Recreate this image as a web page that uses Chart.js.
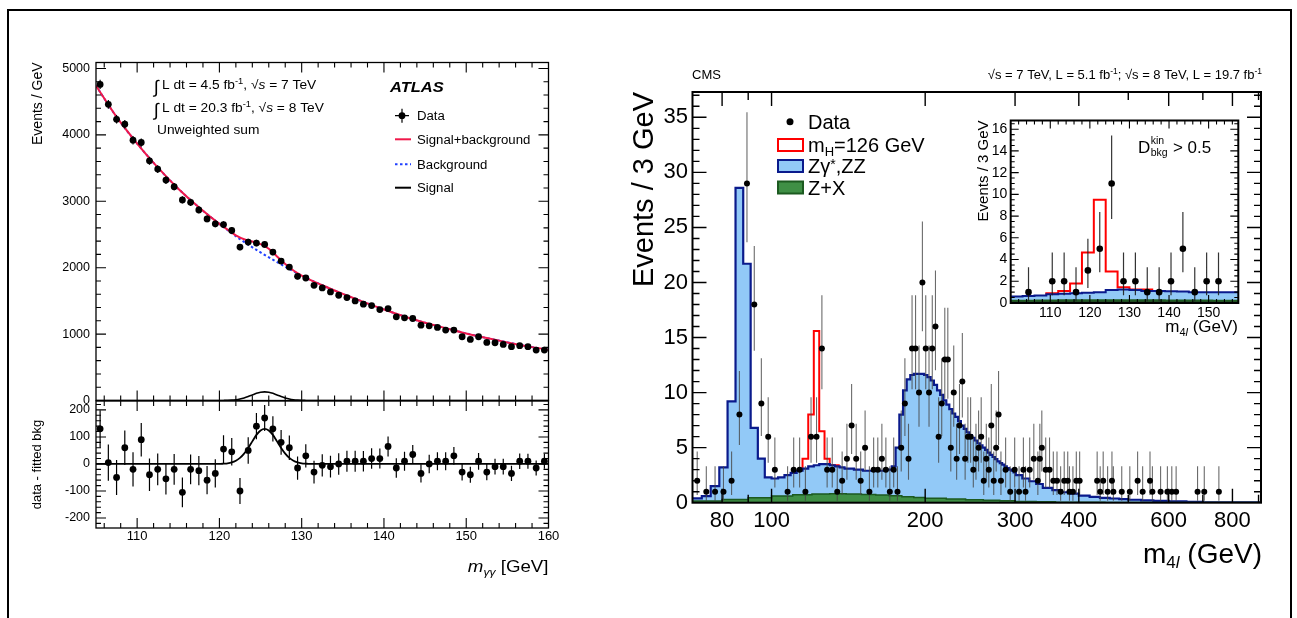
<!DOCTYPE html>
<html>
<head>
<meta charset="utf-8">
<title>ATLAS diphoton and CMS four-lepton mass spectra</title>
<script src="https://cdn.jsdelivr.net/npm/chart.js@4.4.1/dist/chart.umd.min.js"></script>
<style>
  html, body { margin: 0; padding: 0; background: #fff; }
  body { width: 1297px; height: 618px; position: relative; overflow: hidden; }
  canvas { position: absolute; }
  #frame { position: absolute; left: 7px; top: 9px; width: 1281px; height: 640px; border: 2px solid #000; }
</style>
</head>
<body>
<div id="frame"></div>
<canvas id="atlasTop" width="575" height="410" style="left:0;top:0;width:575px;height:410px"></canvas>
<canvas id="atlasRes" width="575" height="228" style="left:0;top:390px;width:575px;height:228px"></canvas>
<canvas id="cmsMain" width="697" height="618" style="left:600px;top:0;width:697px;height:618px"></canvas>
<canvas id="cmsInset" width="290" height="240" style="left:960px;top:100px;width:290px;height:240px"></canvas>
<script>
// ---------- ATLAS  H -> gamma gamma (1 GeV bins) ----------
const atlasMass = [105.5, 106.5, 107.5, 108.5, 109.5, 110.5, 111.5, 112.5, 113.5, 114.5,
  115.5, 116.5, 117.5, 118.5, 119.5, 120.5, 121.5, 122.5, 123.5, 124.5,
  125.5, 126.5, 127.5, 128.5, 129.5, 130.5, 131.5, 132.5, 133.5, 134.5,
  135.5, 136.5, 137.5, 138.5, 139.5, 140.5, 141.5, 142.5, 143.5, 144.5,
  145.5, 146.5, 147.5, 148.5, 149.5, 150.5, 151.5, 152.5, 153.5, 154.5,
  155.5, 156.5, 157.5, 158.5, 159.5];
const atlasEvents = [4760, 4460, 4235, 4160, 3920, 3885, 3610, 3485, 3320, 3220,
  3020, 2985, 2870, 2735, 2660, 2650, 2560, 2310, 2385, 2370,
  2350, 2235, 2100, 2010, 1870, 1845, 1735, 1695, 1635, 1585,
  1550, 1500, 1450, 1430, 1370, 1385, 1260, 1245, 1235, 1135,
  1125, 1100, 1060, 1060, 960, 920, 960, 875, 870, 845,
  810, 825, 810, 760, 760];
const atlasResid = [130, 5, -50, 60, -20, 90, -40, -20, -55, -20,
  -105, -20, -25, -60, -35, 55, 45, -100, 50, 140,
  170, 130, 80, 60, -15, 30, -30, -5, -10, 0,
  10, 10, 10, 20, 20, 65, -15, 10, 35, -35,
  0, 10, 10, 30, -30, -40, 10, -30, -10, -10,
  -35, 10, 10, -15, 10];
const atlasErr = [69, 67, 65, 64, 63, 62, 60, 59, 58, 57,
  55, 55, 54, 52, 52, 51, 51, 48, 49, 49,
  48, 47, 46, 45, 43, 43, 42, 41, 40, 40,
  39, 39, 38, 38, 37, 37, 36, 35, 35, 34,
  34, 33, 33, 33, 31, 30, 31, 30, 29, 29,
  28, 29, 28, 28, 28];
const bkgMass = [105, 107.5, 110, 112.5, 115, 117.5, 120, 122.5, 125, 127.5, 130, 132.5,
  135, 137.5, 140, 142.5, 145, 147.5, 150, 152.5, 155, 157.5, 160];
const bkgEvents = [4740, 4270, 3870, 3510, 3190, 2910, 2660, 2430, 2230, 2050, 1880, 1735,
  1605, 1485, 1370, 1265, 1170, 1090, 1010, 940, 875, 815, 765];
const sbMass = [105, 107.5, 110, 112.5, 115, 117.5, 120, 121, 122, 123, 124, 125, 125.5, 126,
  127, 128, 129, 130, 132.5, 135, 137.5, 140, 142.5, 145, 147.5, 150, 152.5, 155, 157.5, 160];
const sbEvents = [4740, 4270, 3870, 3510, 3190, 2910, 2660, 2572, 2487, 2428, 2394, 2354, 2325, 2284,
  2169, 2054, 1957, 1882, 1735, 1605, 1485, 1370, 1265, 1170, 1090, 1010, 940, 875, 815, 765];
const sigMass = [105, 120, 120.5, 121, 121.5, 122, 122.5, 123, 123.5, 124, 124.5, 125, 125.5,
  126, 126.5, 127, 127.5, 128, 128.5, 129, 129.5, 130, 130.5, 131, 160];
const sigEvents = [0, 0, 1, 2.5, 5.7, 11.9, 22.6, 38.5, 59.4, 83.6, 107.5, 124, 130,
  124, 107.5, 83.6, 59.4, 38.5, 22.6, 11.9, 5.7, 2.5, 1, 0, 0];
const atlasTopTicks = [0, 1000, 2000, 3000, 4000, 5000];
const atlasMassTicks = [110, 120, 130, 140, 150, 160];

// ---------- CMS  H -> 4l (3 GeV bins) ----------
const cmsMass = [71.5, 74.5, 77.5, 80.5, 83.5, 86.5, 89.5, 92.5, 95.5, 98.5, 101.5, 107.5,
  110.5, 113.5, 116.5, 119.5, 122.5, 125.5, 128.5, 131.5, 134.5, 137.5, 140.5, 143.5,
  146.5, 149.5, 152.5, 155.5, 158.5, 161.5, 164.5, 167.5, 170.5, 173.5, 176.5, 179.5,
  182.5, 185.5, 188.5, 191.5, 194.5, 197.5, 200.5, 203.5, 206.5, 209.5, 212.5, 215.5,
  218.5, 221.5, 224.5, 227.5, 230.5, 233.5, 236.5, 239.5, 242.5, 245.5, 248.5, 251.5,
  254.5, 257.5, 260.5, 263.5, 266.5, 269.5, 272.5, 275.5, 278.5, 281.5, 287.5, 293.5,
  299.5, 305.5, 311.5, 314.5, 320.5, 326.5, 332.5, 335.5, 338.5, 344.5, 350.5, 356.5,
  362.5, 368.5, 374.5, 380.5, 383.5, 389.5, 395.5, 401.5, 434.5, 440.5, 446.5, 455.5,
  464.5, 467.5, 485.5, 503.5, 521.5, 533.5, 551.5, 557.5, 578.5, 596.5, 608.5, 620.5,
  683.5, 704.5, 752.5];
const cmsCount = [2, 1, 1, 1, 2, 8, 29, 18, 9, 6, 3, 1,
  3, 3, 1, 6, 6, 14, 3, 3, 1, 2, 4, 7,
  4, 2, 5, 1, 3, 3, 4, 3, 1, 3, 1, 5,
  9, 4, 14, 14, 10, 20, 14, 10, 14, 16, 6, 9,
  13, 13, 5, 10, 4, 7, 11, 4, 6, 6, 3, 4,
  5, 6, 2, 4, 3, 7, 2, 5, 8, 2, 3, 1,
  3, 1, 3, 1, 3, 4, 2, 4, 5, 3, 3, 2,
  2, 1, 2, 2, 1, 1, 2, 2, 2, 1, 2, 1,
  2, 1, 1, 1, 2, 1, 2, 1, 1, 1, 1, 1,
  1, 1, 1];
// 68% Poisson interval bounds, indexed by observed count
const poissonLo = [0, 0.17, 0.71, 1.37, 2.09, 2.84, 3.62, 4.42, 5.23, 6.06, 6.89, 7.73, 8.58, 9.44, 10.30,
  11.17, 12.04, 12.92, 13.80, 14.68, 15.57, 16.45, 17.35, 18.24, 19.14, 20.03, 20.93, 21.84, 22.74, 23.65];
const poissonHi = [1.84, 3.30, 4.64, 5.92, 7.16, 8.38, 9.58, 10.77, 11.95, 13.11, 14.27, 15.42, 16.56, 17.70, 18.83,
  19.96, 21.08, 22.20, 23.32, 24.44, 25.55, 26.66, 27.76, 28.87, 29.97, 31.07, 32.16, 33.26, 34.35, 35.45];

const cmsBkgEdges = [70, 73, 76, 79, 82, 85, 88, 91, 94, 97, 100, 103, 106, 109, 112, 115, 118, 121, 124, 127,
  130, 133, 136, 139, 142, 145, 148, 151, 154, 157, 160, 163, 166, 169, 172, 175, 178, 181, 184, 187,
  190, 193, 196, 199, 202, 205, 208, 211, 214, 217, 220, 223, 226, 229, 232, 235, 238, 241, 244, 247,
  250, 253, 256, 259, 262, 265, 268, 271, 274, 277, 280, 283, 286, 289, 292, 295, 298, 301,
  310, 320, 330, 340, 355, 370, 385, 400, 420, 440, 460, 480, 500, 530, 560, 600, 650, 700, 800, 910];
const cmsBkgTotal = [0.3, 0.4, 0.6, 1.5, 3.2, 9.2, 28.6, 21.7, 6.8, 4.0,
  2.3, 2.2, 2.3, 2.5, 2.7, 2.9, 3.1, 3.3, 3.4, 3.5,
  3.5, 3.4, 3.3, 3.2, 3.1, 3.1, 3.0, 3.0, 2.9, 2.9,
  2.9, 2.9, 2.9, 3.0, 3.0, 3.3, 5.0, 8.0, 10.2, 11.2,
  11.6, 11.7, 11.7, 11.7, 11.6, 11.4, 11.1, 10.7, 10.2, 9.8,
  9.3, 8.9, 8.5, 8.1, 7.8, 7.4, 7.0, 6.7, 6.4, 6.15,
  5.9, 5.65, 5.4, 5.2, 5.0, 4.8, 4.55, 4.35, 4.15, 3.95,
  3.75, 3.6, 3.45, 3.3, 3.15, 3.0, 2.9,
  2.75, 2.5, 2.2, 1.95, 1.7, 1.35, 1.15, 0.95, 0.82, 0.65, 0.52, 0.43, 0.38, 0.32, 0.27, 0.22, 0.17, 0.12, 0.07, 0.03];
const zxEdges = [70, 80, 90, 100, 110, 120, 130, 140, 150, 160, 170, 180, 190, 200, 220, 240, 260, 280, 300,
  330, 360, 400, 450, 500, 910];
const zxValues = [0.1, 0.15, 0.3, 0.45, 0.6, 0.72, 0.8, 0.82, 0.8, 0.75, 0.7, 0.62, 0.55, 0.48, 0.4, 0.33,
  0.27, 0.22, 0.17, 0.12, 0.08, 0.05, 0.03, 0.01];
const higgsEdges = [115, 118, 121, 124, 127, 130, 133, 136];
const higgsTotal = [3.1, 4.0, 8.0, 15.6, 6.5, 4.0, 3.4];
const cmsTickLabels = [80, 100, 200, 300, 400, 600, 800];

// ---------- CMS inset, D_bkg^kin > 0.5 ----------
const insetMass = [104.5, 110.5, 113.5, 116.5, 119.5, 122.5, 125.5, 128.5, 131.5, 134.5, 137.5, 140.5,
  143.5, 146.5, 149.5, 152.5];
const insetCount = [1, 2, 2, 1, 3, 5, 11, 2, 2, 1, 1, 2, 5, 1, 2, 2];
const insetEdges = [100, 103, 106, 109, 112, 115, 118, 121, 124, 127, 130, 133, 136, 139, 142, 145, 148,
  151, 154, 157, 160];
const insetBkg = [0.6, 0.6, 0.65, 0.7, 0.8, 0.85, 0.9, 0.95, 1.0, 1.2, 1.25, 1.2, 1.1, 1.1, 1.08, 1.05,
  1.0, 1.0, 1.0, 1.0];
const insetZX = [0.22, 0.23, 0.24, 0.25, 0.26, 0.27, 0.28, 0.28, 0.28, 0.28, 0.28, 0.28, 0.27, 0.27,
  0.26, 0.26, 0.25, 0.25, 0.24, 0.24];
const insetHiggsEdges = [109, 112, 115, 118, 121, 124, 127, 130, 133, 136];
const insetHiggsTotal = [0.75, 0.9, 1.1, 1.8, 4.65, 9.5, 2.9, 1.45, 1.25];
const insetTickLabels = [110, 120, 130, 140, 150];

// ---------- helpers ----------
const FONT = '"Liberation Sans", Arial, Helvetica, sans-serif';
Chart.defaults.font.family = FONT;
Chart.defaults.color = '#000';

const BLUE_FILL = '#92c9f7', BLUE_LINE = '#0a1a8c';
const GREEN_FILL = '#3f8f45', GREEN_LINE = '#1c5a20';

function pts(xs, ys) { return xs.map((x, i) => ({x: x, y: ys[i]})); }
// histogram outline: one point per bin edge, last edge repeats last content
function steps(edges, vals) { return edges.map((e, i) => ({x: e, y: vals[Math.min(i, vals.length - 1)]})); }
function range(a, b, s) { const out = []; for (let v = a; v <= b + 1e-9; v += s) out.push(+v.toFixed(3)); return out; }
function without(list, skip) { return list.filter(v => !skip.some(s => Math.abs(s - v) < 1e-6)); }
function fixedTicks(list) { return s => { s.ticks = list.map(v => ({value: v})); }; }

function rich(ctx, x, y, parts, align, sx) {
  sx = sx || 1;
  ctx.save();
  let w = 0;
  const segs = parts.map(p => {
    ctx.font = (p[2] || '') + ' ' + p[1] + 'px ' + FONT;
    const m = ctx.measureText(p[0]).width;
    w += m;
    return {t: p[0], f: ctx.font, m: m, dy: p[3] || 0};
  });
  ctx.translate(align === 'right' ? x - w * sx : x, y);
  ctx.scale(sx, 1);
  ctx.fillStyle = '#000';
  ctx.textAlign = 'left';
  ctx.textBaseline = 'alphabetic';
  let cx = 0;
  segs.forEach(s => { ctx.font = s.f; ctx.fillText(s.t, cx, s.dy); cx += s.m; });
  ctx.restore();
  return w * sx;
}

const errorBars = {
  id: 'errorBars',
  beforeDatasetDraw(chart, args) {
    const ds = chart.data.datasets[args.index];
    if (!ds.errLow) return;
    const ys = chart.scales.y, a = chart.chartArea, ctx = chart.ctx;
    ctx.save();
    ctx.beginPath();
    ctx.rect(a.left, a.top, a.right - a.left, a.bottom - a.top);
    ctx.clip();
    ctx.strokeStyle = ds.errColor;
    ctx.lineWidth = ds.errWidth;
    ctx.beginPath();
    args.meta.data.forEach((p, i) => {
      ctx.moveTo(p.x, ys.getPixelForValue(ds.errHigh[i]));
      ctx.lineTo(p.x, ys.getPixelForValue(ds.errLow[i]));
    });
    ctx.stroke();
    ctx.restore();
  }
};

// ROOT style frame with inward ticks on all four sides
function makeFrame(f) {
  return {
    id: 'rootFrame',
    afterDraw(chart) {
      const ctx = chart.ctx, a = chart.chartArea, xs = chart.scales.x, ys = chart.scales.y;
      ctx.save();
      ctx.strokeStyle = '#000';
      ctx.lineWidth = f.tickWidth;
      ctx.beginPath();
      const tx = (vals, len) => vals.forEach(v => {
        const p = xs.getPixelForValue(v);
        if (p <= a.left + 0.5 || p >= a.right - 0.5) return;
        ctx.moveTo(p, a.bottom); ctx.lineTo(p, a.bottom - len);
        ctx.moveTo(p, a.top); ctx.lineTo(p, a.top + len);
      });
      const ty = (vals, len) => vals.forEach(v => {
        const p = ys.getPixelForValue(v);
        if (p <= a.top + 0.5 || p >= a.bottom - 0.5) return;
        ctx.moveTo(a.left, p); ctx.lineTo(a.left + len, p);
        ctx.moveTo(a.right, p); ctx.lineTo(a.right - len, p);
      });
      tx(f.xMajor, f.xMajLen); tx(f.xMinor, f.xMinLen);
      ty(f.yMajor, f.yMajLen); ty(f.yMinor, f.yMinLen);
      ctx.stroke();
      ctx.lineWidth = f.frameWidth;
      ctx.strokeRect(a.left, a.top, a.right - a.left, a.bottom - a.top);
      ctx.restore();
    }
  };
}

function fixWidth(w) {
  return s => { s.width = w; s.paddingTop = 0; s.paddingBottom = 0; s.paddingLeft = 0; s.paddingRight = 0; };
}
function fixHeight(h) {
  return s => { s.height = h; s.paddingTop = 0; s.paddingBottom = 0; s.paddingLeft = 0; s.paddingRight = 0; };
}
function baseOptions(padding, scales) {
  return {
    responsive: false, animation: false, events: [], devicePixelRatio: 1,
    layout: {padding: padding},
    plugins: {legend: {display: false}, tooltip: {enabled: false}},
    scales: scales
  };
}
const noGrid = {display: false, drawTicks: false};

// ---------- ATLAS top panel ----------
const ATLAS_SX = 1.1;
new Chart(document.getElementById('atlasTop'), {
  type: 'line',
  data: {datasets: [
    {data: pts(atlasMass, atlasEvents), showLine: false, pointRadius: 3.4, pointBackgroundColor: '#000',
     pointBorderWidth: 0, order: 0,
     errLow: atlasEvents.map((v, i) => v - atlasErr[i]), errHigh: atlasEvents.map((v, i) => v + atlasErr[i]),
     errColor: '#000', errWidth: 1.2},
    {data: pts(sbMass, sbEvents), borderColor: '#f0184a', borderWidth: 2, pointRadius: 0,
     cubicInterpolationMode: 'monotone', fill: false, order: 1},
    {data: pts(bkgMass, bkgEvents), borderColor: '#2040ff', borderWidth: 2, borderDash: [2.5, 2.5], pointRadius: 0,
     cubicInterpolationMode: 'monotone', fill: false, order: 2},
    {data: pts(sigMass, sigEvents), borderColor: '#000', borderWidth: 1.6, pointRadius: 0,
     cubicInterpolationMode: 'monotone', fill: false, order: 3}
  ]},
  options: baseOptions({left: 0, top: 62.5, right: 26.5, bottom: 9.5}, {
    x: {type: 'linear', min: 105, max: 160, display: false},
    y: {type: 'linear', min: 0, max: 5090, afterFit: fixWidth(96), grid: noGrid, border: {display: false},
        afterBuildTicks: fixedTicks(atlasTopTicks),
        ticks: {callback: v => String(v), padding: 6, font: {size: 12.5}, color: '#000'},
        title: {display: true, text: 'Events / GeV', align: 'end', font: {size: 14}, color: '#000',
                padding: {top: 29.6, bottom: 0}}}
  }),
  plugins: [errorBars,
    makeFrame({xMajor: range(110, 150, 10), xMinor: without(range(106, 158, 2), range(110, 150, 10)),
               yMajor: range(1000, 5000, 1000), yMinor: without(range(200, 5000, 200), range(1000, 5000, 1000)),
               xMajLen: 10, xMinLen: 5, yMajLen: 10, yMinLen: 5, tickWidth: 1.1, frameWidth: 1.3}),
    {id: 'atlasNotes', afterDraw(chart) {
      const ctx = chart.ctx;
      rich(ctx, 154, 93, [['\u222B', 18]]);
      rich(ctx, 162, 89, [['L dt = 4.5 fb', 12.5], ['-1', 8.5, '', -5], [', \u221A', 12.5], ['s', 12.5, 'italic'],
        [' = 7 TeV', 12.5]], 'left', ATLAS_SX);
      rich(ctx, 154, 116, [['\u222B', 18]]);
      rich(ctx, 162, 112, [['L dt = 20.3 fb', 12.5], ['-1', 8.5, '', -5], [', \u221A', 12.5], ['s', 12.5, 'italic'],
        [' = 8 TeV', 12.5]], 'left', ATLAS_SX);
      rich(ctx, 157, 133.5, [['Unweighted sum', 12.5]], 'left', ATLAS_SX);
      rich(ctx, 390, 91.7, [['ATLAS', 15, 'italic bold']], 'left', ATLAS_SX);
      // legend
      ctx.save();
      ctx.strokeStyle = '#000'; ctx.lineWidth = 1.2;
      ctx.beginPath();
      ctx.moveTo(395, 115.7); ctx.lineTo(409, 115.7);
      ctx.moveTo(402, 108.7); ctx.lineTo(402, 122.7);
      ctx.stroke();
      ctx.fillStyle = '#000';
      ctx.beginPath(); ctx.arc(402, 115.7, 3.4, 0, 2 * Math.PI); ctx.fill();
      ctx.lineWidth = 2;
      ctx.strokeStyle = '#f0184a';
      ctx.beginPath(); ctx.moveTo(395, 139.3); ctx.lineTo(411, 139.3); ctx.stroke();
      ctx.strokeStyle = '#2040ff'; ctx.setLineDash([2.5, 2.5]);
      ctx.beginPath(); ctx.moveTo(395, 164.3); ctx.lineTo(411, 164.3); ctx.stroke();
      ctx.setLineDash([]);
      ctx.strokeStyle = '#000';
      ctx.beginPath(); ctx.moveTo(395, 187.7); ctx.lineTo(411, 187.7); ctx.stroke();
      ctx.restore();
      rich(ctx, 417, 120, [['Data', 12]], 'left', ATLAS_SX);
      rich(ctx, 417, 143.6, [['Signal+background', 12]], 'left', ATLAS_SX);
      rich(ctx, 417, 168.6, [['Background', 12]], 'left', ATLAS_SX);
      rich(ctx, 417, 192, [['Signal', 12]], 'left', ATLAS_SX);
    }}
  ]
});

// ---------- ATLAS residual panel ----------
new Chart(document.getElementById('atlasRes'), {
  type: 'line',
  data: {datasets: [
    {data: pts(atlasMass, atlasResid), showLine: false, pointRadius: 3.4, pointBackgroundColor: '#000',
     pointBorderWidth: 0, order: 0,
     errLow: atlasResid.map((v, i) => v - atlasErr[i]), errHigh: atlasResid.map((v, i) => v + atlasErr[i]),
     errColor: '#000', errWidth: 1.2},
    {data: pts(sigMass, sigEvents), borderColor: '#000', borderWidth: 1.8, pointRadius: 0,
     cubicInterpolationMode: 'monotone', fill: false, order: 1}
  ]},
  options: baseOptions({left: 0, top: 11, right: 26.5, bottom: 0}, {
    x: {type: 'linear', min: 105, max: 160, afterFit: fixHeight(90), grid: noGrid, border: {display: false},
        afterBuildTicks: fixedTicks(atlasMassTicks),
        ticks: {callback: v => String(v), autoSkip: false, padding: 1, maxRotation: 0, font: {size: 13}, color: '#000'}},
    y: {type: 'linear', min: -237, max: 233, afterFit: fixWidth(96), grid: noGrid, border: {display: false},
        ticks: {stepSize: 100, includeBounds: false, padding: 6, font: {size: 12.5}, color: '#000'},
        title: {display: true, text: 'data - fitted bkg', align: 'center', font: {size: 13}, color: '#000',
                padding: {top: 29.8, bottom: 0}}}
  }),
  plugins: [errorBars,
    makeFrame({xMajor: range(110, 150, 10), xMinor: without(range(106, 158, 2), range(110, 150, 10)),
               yMajor: range(-200, 200, 100), yMinor: without(range(-220, 220, 20), range(-200, 200, 100)),
               xMajLen: 10, xMinLen: 5, yMajLen: 10, yMinLen: 5, tickWidth: 1.1, frameWidth: 1.3}),
    {id: 'atlasResNotes', afterDraw(chart) {
      const ctx = chart.ctx;
      ctx.save(); ctx.translate(0, -390);
      rich(ctx, 548.5, 572, [['m', 17, 'italic'], ['\u03B3\u03B3', 11, 'italic', 4], [' [GeV]', 17]], 'right', ATLAS_SX);
      ctx.restore();
    }}
  ]
});

// ---------- CMS main panel ----------
new Chart(document.getElementById('cmsMain'), {
  type: 'line',
  data: {datasets: [
    {data: pts(cmsMass, cmsCount), showLine: false, pointRadius: 3, pointBackgroundColor: '#000',
     pointBorderWidth: 0, order: 0,
     errLow: cmsCount.map(n => poissonLo[n]), errHigh: cmsCount.map(n => poissonHi[n]),
     errColor: 'rgba(70,70,70,0.8)', errWidth: 1.1},
    {data: steps(zxEdges, zxValues), stepped: 'after', borderColor: GREEN_LINE, borderWidth: 1.5,
     backgroundColor: GREEN_FILL, fill: 'origin', pointRadius: 0, order: 1},
    {data: steps(cmsBkgEdges, cmsBkgTotal), stepped: 'after', borderColor: BLUE_LINE, borderWidth: 2.2,
     backgroundColor: BLUE_FILL, fill: 'origin', pointRadius: 0, order: 2},
    {data: steps(higgsEdges, higgsTotal), stepped: 'after', borderColor: '#ff0000', borderWidth: 2,
     fill: false, pointRadius: 0, order: 3}
  ]},
  options: baseOptions({left: 0, top: 92, right: 36, bottom: 0}, {
    x: {type: 'logarithmic', min: 70, max: 910, afterFit: fixHeight(115.3), grid: noGrid, border: {display: false},
        afterBuildTicks: fixedTicks(cmsTickLabels),
        ticks: {callback: v => String(v), autoSkip: false, maxRotation: 0, padding: 5, font: {size: 22}, color: '#000'}},
    y: {type: 'linear', min: 0, max: 37.3, afterFit: fixWidth(92.5), grid: noGrid, border: {display: false},
        ticks: {stepSize: 5, includeBounds: false, padding: 4.5, font: {size: 22}, color: '#000'},
        title: {display: true, text: 'Events / 3 GeV', align: 'end', font: {size: 29}, color: '#000',
                padding: {top: 28, bottom: 0}}}
  }),
  plugins: [errorBars,
    makeFrame({xMajor: cmsTickLabels, xMinor: [70, 90, 500, 700, 900],
               yMajor: range(5, 35, 5), yMinor: without(range(1, 37, 1), range(5, 35, 5)),
               xMajLen: 14, xMinLen: 8, yMajLen: 14, yMinLen: 7, tickWidth: 1.4, frameWidth: 2}),
    {id: 'cmsNotes', afterDraw(chart) {
      const ctx = chart.ctx;
      ctx.save(); ctx.translate(-600, 0);
      rich(ctx, 692, 79, [['CMS', 13]]);
      rich(ctx, 1262, 79, [['\u221As = 7 TeV, L = 5.1 fb', 13], ['-1', 8.5, '', -5],
        ['; \u221As = 8 TeV, L = 19.7 fb', 13], ['-1', 8.5, '', -5]], 'right');
      // legend
      ctx.fillStyle = '#000';
      ctx.beginPath(); ctx.arc(790, 121.7, 3.5, 0, 2 * Math.PI); ctx.fill();
      ctx.lineWidth = 2;
      ctx.fillStyle = '#fff'; ctx.strokeStyle = '#ff0000';
      ctx.fillRect(778, 139, 25, 12); ctx.strokeRect(778, 139, 25, 12);
      ctx.fillStyle = BLUE_FILL; ctx.strokeStyle = BLUE_LINE;
      ctx.fillRect(778, 160, 25, 12); ctx.strokeRect(778, 160, 25, 12);
      ctx.fillStyle = GREEN_FILL; ctx.strokeStyle = GREEN_LINE;
      ctx.fillRect(778, 181.5, 25, 12); ctx.strokeRect(778, 181.5, 25, 12);
      rich(ctx, 808, 128.5, [['Data', 20]]);
      rich(ctx, 808, 152, [['m', 20], ['H', 13, '', 4], ['=126 GeV', 20]]);
      rich(ctx, 808, 172.5, [['Z\u03B3', 20], ['*', 14, '', -4], [',ZZ', 20]]);
      rich(ctx, 808, 195, [['Z+X', 20]]);
      // x title
      rich(ctx, 1262, 563, [['m', 28], ['4', 17, '', 5], ['l', 17, 'italic', 5], [' (GeV)', 28]], 'right');
      ctx.restore();
    }}
  ]
});

// ---------- CMS inset ----------
new Chart(document.getElementById('cmsInset'), {
  type: 'line',
  data: {datasets: [
    {data: pts(insetMass, insetCount), showLine: false, pointRadius: 3.3, pointBackgroundColor: '#000',
     pointBorderWidth: 0, order: 0,
     errLow: insetCount.map(n => poissonLo[n]), errHigh: insetCount.map(n => poissonHi[n]),
     errColor: 'rgba(30,30,30,0.9)', errWidth: 1.2},
    {data: steps(insetEdges, insetZX), stepped: 'after', borderColor: GREEN_LINE, borderWidth: 1.5,
     backgroundColor: '#1f4a22', fill: 'origin', pointRadius: 0, order: 1},
    {data: steps(insetEdges, insetBkg), stepped: 'after', borderColor: BLUE_LINE, borderWidth: 2,
     backgroundColor: BLUE_FILL, fill: 'origin', pointRadius: 0, order: 2},
    {data: steps(insetHiggsEdges, insetHiggsTotal), stepped: 'after', borderColor: '#ff0000', borderWidth: 2,
     fill: false, pointRadius: 0, order: 3}
  ]},
  options: baseOptions({left: 0, top: 20.5, right: 11.7, bottom: 0}, {
    x: {type: 'linear', min: 100, max: 157.5, afterFit: fixHeight(37), grid: noGrid, border: {display: false},
        afterBuildTicks: fixedTicks(insetTickLabels),
        ticks: {callback: v => String(v), autoSkip: false, maxRotation: 0, padding: 2, font: {size: 14}, color: '#000'}},
    y: {type: 'linear', min: 0, max: 16.8, afterFit: fixWidth(50.7), grid: noGrid, border: {display: false},
        ticks: {stepSize: 2, includeBounds: false, padding: 3.5, font: {size: 14}, color: '#000'},
        title: {display: true, text: 'Events / 3 GeV', align: 'end', font: {size: 15}, color: '#000',
                padding: {top: 14.5, bottom: 0}}}
  }),
  plugins: [
    {id: 'insetBg', beforeDraw(chart) {
      const a = chart.chartArea, ctx = chart.ctx;
      ctx.save(); ctx.fillStyle = '#fff'; ctx.fillRect(a.left, a.top, a.right - a.left, a.bottom - a.top); ctx.restore();
    }},
    errorBars,
    makeFrame({xMajor: insetTickLabels, xMinor: without(range(102, 156, 2), insetTickLabels),
               yMajor: range(2, 16, 2), yMinor: without(range(0.5, 16.5, 0.5), range(2, 16, 2)),
               xMajLen: 8, xMinLen: 4, yMajLen: 8, yMinLen: 4, tickWidth: 1.1, frameWidth: 2}),
    {id: 'insetNotes', afterDraw(chart) {
      const ctx = chart.ctx;
      ctx.save(); ctx.translate(-960, -100);
      const wD = rich(ctx, 1138, 153, [['D', 17]]);
      rich(ctx, 1138 + wD + 0.5, 143.5, [['kin', 10.5]]);
      const wb = rich(ctx, 1138 + wD + 0.5, 155.5, [['bkg', 10.5]]);
      rich(ctx, 1138 + wD + 1 + wb, 153, [[' > 0.5', 17]]);
      rich(ctx, 1238, 332, [['m', 17], ['4', 11, '', 4], ['l', 11, 'italic', 4], [' (GeV)', 17]], 'right');
      ctx.restore();
    }}
  ]
});
</script>
</body>
</html>
